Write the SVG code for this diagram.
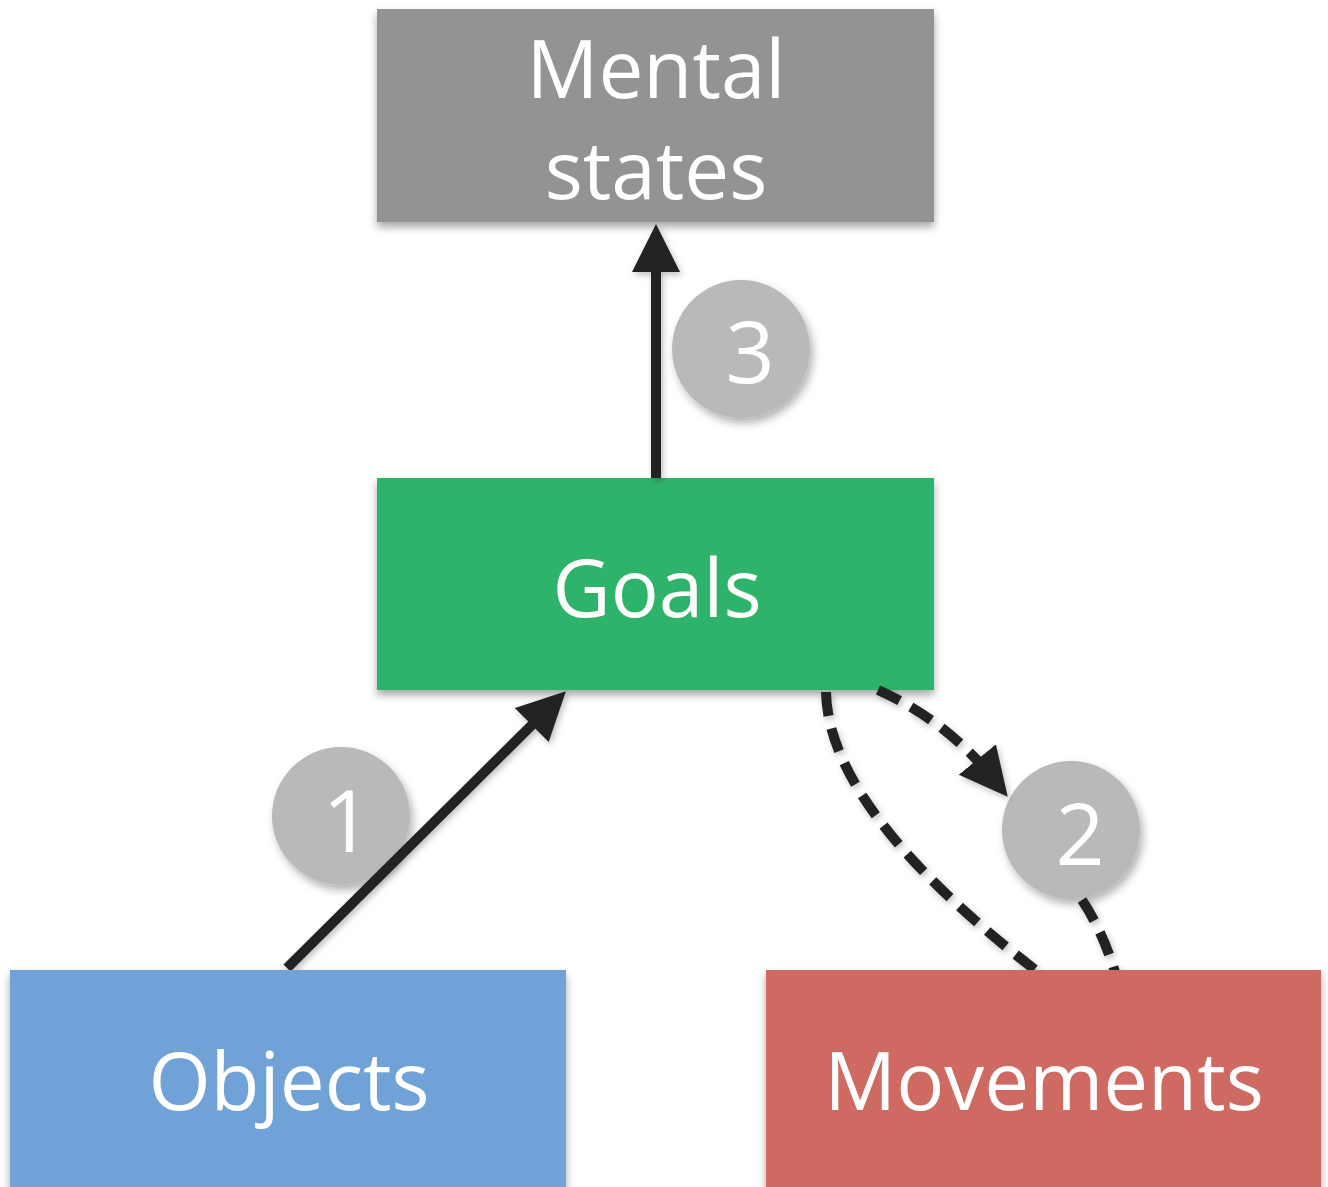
<svg xmlns="http://www.w3.org/2000/svg" width="1328" height="1187" viewBox="0 0 1328 1187">
<defs>
<filter id="sh" x="-10%" y="-10%" width="120%" height="130%">
<feDropShadow dx="0" dy="5" stdDeviation="4" flood-color="#000" flood-opacity="0.35"/>
</filter>
<filter id="shc" x="-20%" y="-20%" width="150%" height="150%">
<feDropShadow dx="3" dy="5" stdDeviation="4" flood-color="#000" flood-opacity="0.3"/>
</filter>
<filter id="shl" x="-20%" y="-20%" width="140%" height="140%">
<feDropShadow dx="2" dy="3" stdDeviation="3" flood-color="#000" flood-opacity="0.25"/>
</filter>
<marker id="ah" markerUnits="userSpaceOnUse" markerWidth="50" markerHeight="50" refX="20" refY="24" orient="auto" viewBox="0 0 50 50">
<path d="M0,0 L48,24 L0,48 z" fill="#222"/>
</marker>
<style>
.box{filter:url(#sh)}
.lbl{font-family:"Open Sans","DejaVu Sans",sans-serif;font-size:80px;fill:#fff;text-anchor:middle}
.num{font-family:"Open Sans","DejaVu Sans",sans-serif;font-size:86px;fill:#fff;text-anchor:middle}
.circ{fill:#b9b9b9;filter:url(#shc)}
.solid{stroke:#222;stroke-width:10;fill:none}
.dash{stroke:#222;stroke-width:10;fill:none;stroke-dasharray:24 13}
</style>
</defs>
<rect width="1328" height="1187" fill="#fff"/>

<g id="mental-states">
<rect class="box" x="377" y="9" width="557" height="213" fill="#939393"/>
<text class="lbl" x="656" y="98">Mental</text>
<text class="lbl" x="656" y="199">states</text>
</g>

<g id="goals">
<rect class="box" x="377" y="478" width="557" height="212" fill="#2db46a"/>
<text class="lbl" x="657" y="617">Goals</text>
</g>

<g id="circle-3">
<circle class="circ" cx="741" cy="349" r="69"/>
<text class="num" x="750" y="383">3</text>
</g>
<g id="circle-1">
<circle class="circ" cx="341" cy="816" r="69"/>
<text class="num" x="347" y="852">1</text>
</g>
<g id="circle-2">
<circle class="circ" cx="1071" cy="830" r="69"/>
<text class="num" x="1080" y="865">2</text>
</g>

<g id="connectors" filter="url(#shl)">
<line class="solid" x1="656" y1="478" x2="656" y2="252" marker-end="url(#ah)"/>
<line class="solid" x1="287" y1="968" x2="546" y2="711" marker-end="url(#ah)"/>
<path class="dash" d="M878 690 Q945 720 990 775" marker-end="url(#ah)"/>
<path class="dash" d="M826 692 C828 785 925 885 1038 972"/>
<path class="dash" d="M1082 900 Q1102 930 1115 972"/>
</g>

<g id="objects">
<rect class="box" x="10" y="970" width="556" height="222" fill="#6fa1d7"/>
<text class="lbl" x="289" y="1110">Objects</text>
</g>

<g id="movements">
<rect class="box" x="766" y="970" width="555" height="222" fill="#cf6b62"/>
<text class="lbl" x="1044" y="1110">Movements</text>
</g>
</svg>
